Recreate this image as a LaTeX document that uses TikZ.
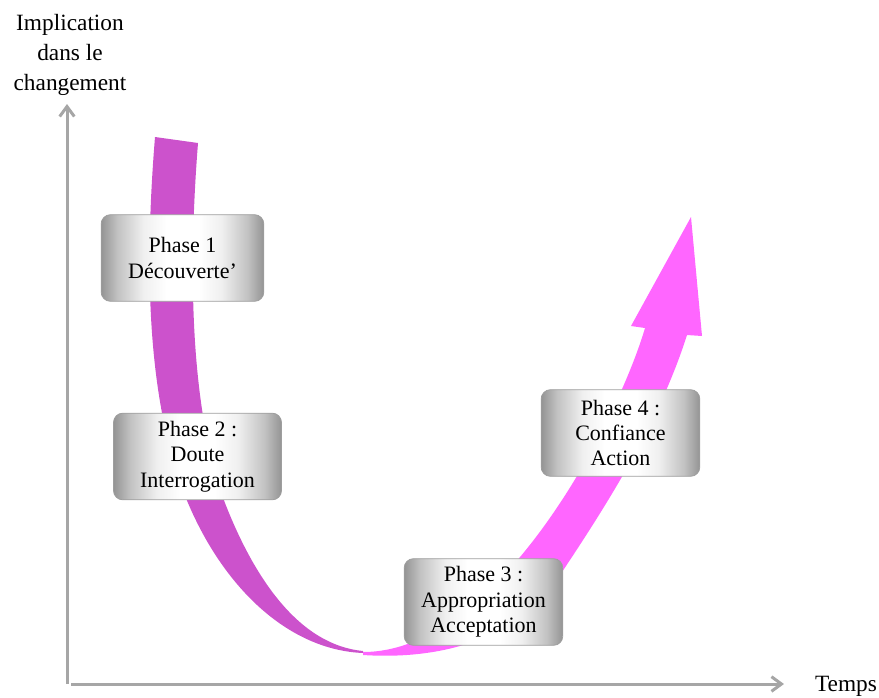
\documentclass[tikz,border=0pt]{standalone}
\usepackage{fontspec}
\setmainfont{Liberation Serif}
\usetikzlibrary{arrows.meta}
\definecolor{axisgray}{RGB}{166,166,166}
\definecolor{ribbondark}{RGB}{204,82,204}
\definecolor{ribbonlight}{RGB}{255,102,255}
\pgfdeclarehorizontalshading{silver}{100bp}{color(0bp)=(black!42); color(25bp)=(black!42); color(30bp)=(black!24); color(38bp)=(black!6); color(45bp)=(white); color(55bp)=(white); color(62bp)=(black!6); color(70bp)=(black!24); color(75bp)=(black!42); color(100bp)=(black!42)}

\begin{document}
\begin{tikzpicture}[x=0.75pt, y=-0.75pt]
        \tikzset{>={Straight Barb[length=7.5pt,width=11pt]}}
        \tikzset{phase/.style={shading=silver, draw=black!38, line width=0.6pt, rounded corners=7pt, minimum width=119pt, minimum height=65pt, inner sep=0pt, align=center, font=\fontsize{16.5}{19}\selectfont}}
        \tikzset{axislabel/.style={align=center, font=\fontsize{17.5}{22.5}\selectfont}}
        \useasboundingbox (0,0) rectangle (879,697);

	\coordinate (o1) at (67,684);
	\coordinate (o2) at (71,684);
	\coordinate (ytop) at (67,104);
	\coordinate (xend) at (784,684);
	\draw[->, axisgray, line width=2.25pt] (o1) -- (ytop);
	\draw[->, axisgray, line width=2.25pt] (o2) -- (xend);
	\node[axislabel] (ylab) at (70,55) {Implication\\dans le\\changement};
	\node[axislabel] (xlab) at (846,686) {Temps};

	% ribbon, dark half
	\fill[ribbondark] (155,137) .. controls (145,260) and (145,400) .. (188,503)
	    .. controls (225,590) and (290,650) .. (363,653) -- (363,651)
	    .. controls (300,645) and (255,580) .. (225,503)
	    .. controls (190,410) and (188,270) .. (198,143) -- cycle;
	% ribbon, light half with head
	\fill[ribbonlight] (363,652) .. controls (500,652) and (618,420) .. (645,328)
	    -- (631,326) -- (691,217) -- (702,336) -- (687,335)
	    .. controls (660,420) and (610,500) .. (562,572)
	    .. controls (520,640) and (440,660) .. (363,655) -- cycle;

	\node[phase, minimum width=122pt] (p1) at (182.5,258) {Phase 1\\Découverte'};
	\node[phase, minimum width=126pt] (p2) at (197.5,456.5) {Phase 2 :\\Doute\\Interrogation};
	\node[phase] (p3) at (483.5,602) {Phase 3 :\\Appropriation\\Acceptation};
	\node[phase] (p4) at (620.5,433) {Phase 4 :\\Confiance\\Action};
\end{tikzpicture}
\end{document}
